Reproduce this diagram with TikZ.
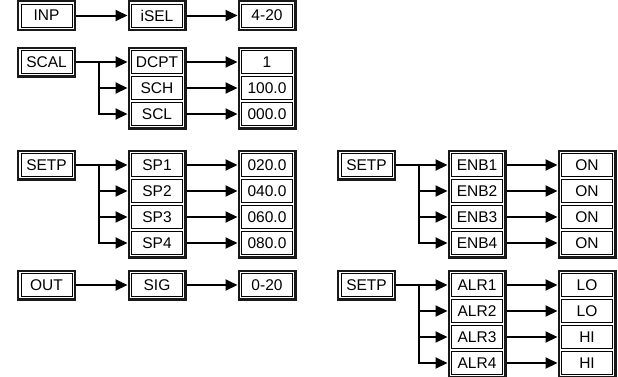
\documentclass[tikz,border=0pt]{standalone}
\usepackage{fontspec}
\setmainfont{Liberation Sans}
\usetikzlibrary{arrows.meta,fit,calc}
\tikzset{
  item/.style={draw, line width=1pt, minimum width=51pt, minimum height=23pt, inner sep=0pt, outer sep=0pt, font=\fontsize{15.5}{17}\selectfont},
  frame/.style={draw=black!90, line width=2.4pt, inner sep=2.8pt},
  conn/.style={line width=2pt, -{Triangle[length=12pt,width=11pt]}},
}
\begin{document}
\begin{tikzpicture}[x=1pt,y=-1pt]
\useasboundingbox (0,0) rectangle (618,376);
\clip (0,0) rectangle (618,376);

% ---------- Row 1 ----------
\node[item] (inp) at (46.5,15.5) {INP};
\node[frame, fit=(inp)] (inpF) {};
\node[item] (isel) at (157,15.5) {iSEL};
\node[frame, fit=(isel)] (iselF) {};
\node[item] (v420) at (267,15.5) {4-20};
\node[frame, fit=(v420)] (v420F) {};
\draw[conn] (inpF.east) -- (iselF.west);
\draw[conn] (iselF.east) -- (v420F.west);

% ---------- Row 2 ----------
\node[item] (scal) at (46.5,62) {SCAL};
\node[frame, fit=(scal)] (scalF) {};
\node[item] (dcpt) at (157,62) {DCPT};
\node[item] (sch) at (157,88) {SCH};
\node[item] (scl) at (157,114) {SCL};
\node[frame, fit=(dcpt)(scl)] (scalB) {};
\node[item] (vd) at (267,62) {1};
\node[item] (vh) at (267,88) {100.0};
\node[item] (vl) at (267,114) {000.0};
\node[frame, fit=(vd)(vl)] (scalC) {};
\coordinate (scalbr) at ($(scalF.east)+(23,0)$);
\draw[conn] (scalF.east) -- (dcpt -| scalB.west);
\foreach \n in {sch,scl} \draw[conn] (scalbr) |- (\n -| scalB.west);
\foreach \a/\b in {dcpt/vd,sch/vh,scl/vl} \draw[conn] (\a -| scalB.east) -- (\b -| scalC.west);

% ---------- Row 3 left ----------
\node[item] (setpa) at (46.5,165) {SETP};
\node[frame, fit=(setpa)] (setpaF) {};
\foreach \i/\v in {1/020.0,2/040.0,3/060.0,4/080.0} {
  \node[item] (sp\i) at (157,{165+26*(\i-1)}) {SP\i};
  \node[item] (spv\i) at (267,{165+26*(\i-1)}) {\v};
}
\node[frame, fit=(sp1)(sp4)] (spB) {};
\node[frame, fit=(spv1)(spv4)] (spC) {};
\coordinate (setpabr) at ($(setpaF.east)+(23,0)$);
\draw[conn] (setpaF.east) -- (sp1 -| spB.west);
\foreach \i in {2,3,4} \draw[conn] (setpabr) |- (sp\i -| spB.west);
\foreach \i in {1,2,3,4} \draw[conn] (sp\i -| spB.east) -- (spv\i -| spC.west);

% ---------- Row 3 right ----------
\node[item] (setpb) at (366.5,165) {SETP};
\node[frame, fit=(setpb)] (setpbF) {};
\foreach \i in {1,2,3,4} {
  \node[item] (enb\i) at (477,{165+26*(\i-1)}) {ENB\i};
  \node[item] (on\i) at (587,{165+26*(\i-1)}) {ON};
}
\node[frame, fit=(enb1)(enb4)] (enbB) {};
\node[frame, fit=(on1)(on4)] (enbC) {};
\coordinate (setpbbr) at ($(setpbF.east)+(23,0)$);
\draw[conn] (setpbF.east) -- (enb1 -| enbB.west);
\foreach \i in {2,3,4} \draw[conn] (setpbbr) |- (enb\i -| enbB.west);
\foreach \i in {1,2,3,4} \draw[conn] (enb\i -| enbB.east) -- (on\i -| enbC.west);

% ---------- Row 4 left ----------
\node[item] (out) at (46.5,285) {OUT};
\node[frame, fit=(out)] (outF) {};
\node[item] (sig) at (157,285) {SIG};
\node[frame, fit=(sig)] (sigF) {};
\node[item] (v020) at (267,285) {0-20};
\node[frame, fit=(v020)] (v020F) {};
\draw[conn] (outF.east) -- (sigF.west);
\draw[conn] (sigF.east) -- (v020F.west);

% ---------- Row 4 right ----------
\node[item] (setpc) at (366.5,285) {SETP};
\node[frame, fit=(setpc)] (setpcF) {};
\foreach \i/\v in {1/LO,2/LO,3/HI,4/HI} {
  \node[item] (alr\i) at (477,{285+26*(\i-1)}) {ALR\i};
  \node[item] (alv\i) at (587,{285+26*(\i-1)}) {\v};
}
\node[frame, fit=(alr1)(alr4)] (alrB) {};
\node[frame, fit=(alv1)(alv4)] (alrC) {};
\coordinate (setpcbr) at ($(setpcF.east)+(23,0)$);
\draw[conn] (setpcF.east) -- (alr1 -| alrB.west);
\foreach \i in {2,3,4} \draw[conn] (setpcbr) |- (alr\i -| alrB.west);
\foreach \i in {1,2,3,4} \draw[conn] (alr\i -| alrB.east) -- (alv\i -| alrC.west);
\end{tikzpicture}
\end{document}
